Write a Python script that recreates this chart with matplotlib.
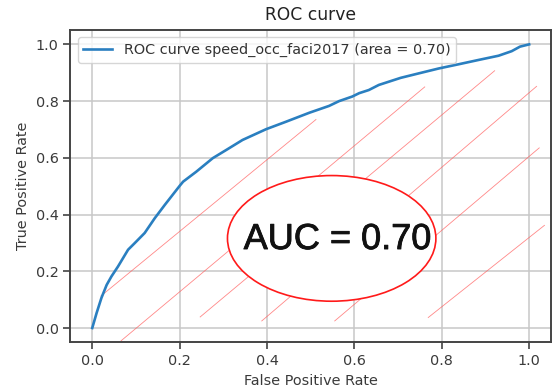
import matplotlib
matplotlib.use("Agg")
import matplotlib.pyplot as plt
import matplotlib.patheffects as pe
from matplotlib.patches import Ellipse

# ROC curve data
fpr = [0.0, 0.010, 0.021, 0.033, 0.044, 0.059, 0.082, 0.097, 0.120, 0.143,
       0.166, 0.200, 0.208, 0.238, 0.276, 0.307, 0.344, 0.398, 0.443, 0.497,
       0.542, 0.565, 0.595, 0.611, 0.633, 0.656, 0.706, 0.748, 0.793, 0.839,
       0.884, 0.930, 0.960, 0.979, 1.0]
tpr = [0.0, 0.053, 0.106, 0.152, 0.182, 0.217, 0.276, 0.299, 0.335, 0.387,
       0.434, 0.501, 0.516, 0.551, 0.599, 0.628, 0.663, 0.701, 0.727, 0.759,
       0.783, 0.800, 0.816, 0.828, 0.839, 0.857, 0.882, 0.898, 0.915, 0.930,
       0.945, 0.960, 0.976, 0.992, 1.0]
roc_label = "ROC curve speed_occ_faci2017 (area = 0.70)"
auc_text = "AUC = 0.70"

# red hatch annotation lines (start / end in data units)
hatch_x0 = [0.020, 0.066, 0.247, 0.388, 0.555, 0.769]
hatch_y0 = [0.113, -0.045, 0.039, 0.025, 0.025, 0.037]
hatch_x1 = [0.512, 0.761, 0.921, 1.017, 1.023, 1.035]
hatch_y1 = [0.735, 0.850, 0.907, 0.852, 0.635, 0.362]

# annotation ellipse (center, width, height in data units)
ell_center = (0.548, 0.316)
ell_width = 0.477
ell_height = 0.443

fs = 10.4
plt.rcParams['font.family'] = ['DejaVu Sans']
plt.rcParams['font.size'] = fs

fig = plt.figure(figsize=(5.53, 3.91), dpi=100)
ax = fig.add_axes([0.1273, 0.1248, 0.8691, 0.798])

ax.grid(True, color='#c8c8c8', linewidth=1.1)
ax.set_axisbelow(True)

for x0, y0, x1, y1 in zip(hatch_x0, hatch_y0, hatch_x1, hatch_y1):
    ax.plot([x0, x1], [y0, y1], color='#ff6060', linewidth=0.6, alpha=0.75, zorder=2)

ax.plot(fpr, tpr, color='#2a7fc0', linewidth=1.9, label=roc_label, zorder=3)

ell = Ellipse(ell_center, ell_width, ell_height, facecolor='white',
              edgecolor='#ff1a1a', linewidth=1.2, zorder=4)
ax.add_patch(ell)
ax.text(0.561, 0.312, auc_text, ha='center', va='center', fontsize=26,
        fontweight='normal', family=['Liberation Sans'],
        color='#111111', zorder=5,
        path_effects=[pe.withStroke(linewidth=0.6, foreground='#111111')])

ax.set_xlim(-0.05, 1.05)
ax.set_ylim(-0.05, 1.05)
ax.set_xticks([0.0, 0.2, 0.4, 0.6, 0.8, 1.0])
ax.set_yticks([0.0, 0.2, 0.4, 0.6, 0.8, 1.0])
ax.tick_params(direction='out', length=5, width=1.1, color='#333333',
               labelcolor='#3a3a3a', labelsize=fs)
for s in ax.spines.values():
    s.set_color('#444444')
    s.set_linewidth(1.4)

ax.set_title("ROC curve", fontsize=12.3, color='#222222', pad=7)
ax.set_xlabel("False Positive Rate", color='#3a3a3a')
ax.set_ylabel("True Positive Rate", color='#3a3a3a')

leg = ax.legend(loc='upper left', fontsize=fs, framealpha=0.8,
                fancybox=True, edgecolor='#cccccc')
for t in leg.get_texts():
    t.set_color('#333333')

fig.savefig("out.png", dpi=100)
